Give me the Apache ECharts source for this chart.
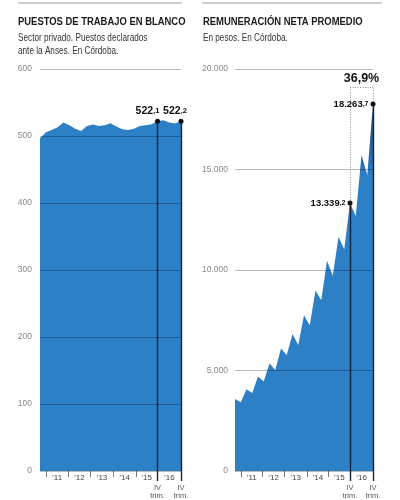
<!DOCTYPE html>
<html><head><meta charset="utf-8">
<script src="https://cdn.jsdelivr.net/npm/echarts@6/dist/echarts.min.js"></script>
<style>html,body{margin:0;padding:0;background:#fff}#c{width:400px;height:500px}</style>
</head><body><div id="c"></div>
<script>
// Quarterly series, IV 2010 .. IV 2016 (index 0..24)
const quarters = ['IV-10','I-11','II-11','III-11','IV-11','I-12','II-12','III-12','IV-12','I-13','II-13','III-13','IV-13','I-14','II-14','III-14','IV-14','I-15','II-15','III-15','IV-15','I-16','II-16','III-16','IV-16'];
// Puestos de trabajo registrados (miles)
const empleo = [496.5, 505.5, 509, 513, 520, 516, 511, 507.5, 515, 517, 515, 516, 519, 514, 510, 509, 511, 515, 516, 517.5, 522.1, 523.5, 520, 518.5, 522.2];
// Remuneración neta promedio (pesos)
const remuneracion = [3580, 3420, 4070, 3880, 4700, 4450, 5360, 5030, 6100, 5770, 6810, 6270, 7750, 7250, 8980, 8490, 10460, 9720, 11640, 11030, 13339.2, 12680, 15720, 14730, 18263.7];
// Axis ticks (year boundaries, in quarter-index units) and year labels
const yearTicks = [1, 4.8, 8.6, 12.5, 16.3, 20, 24];
const yearLabels = ['’11', '’12', '’13', '’14', '’15', '’16'];
const trimLabel = 'IV\ntrim.';
const highlightIdx = [20, 24];
const leftYTicks = {min: 0, max: 600, interval: 100};
const rightYTicks = {min: 0, max: 20000, interval: 5000};
const bracketTop = 19100;

const FW = '"Liberation Sans",Arial,sans-serif';
const BLUE = '#2d7fc6';
const NAVY = '#16263a';
const NARROW = 0.82;

const yearMids = yearLabels.map((_, i) => (yearTicks[i] + yearTicks[i + 1]) / 2);

function dots(n) { return String(n).replace(/\B(?=(\d{3})+(?!\d))/g, '.'); }
function splitNum(v) {
  const s = v.toFixed(1).split('.');
  return {int: dots(s[0]), dec: ',' + s[1]};
}

function xAxesFor(grid) {
  return [
    {
      gridIndex: grid, type: 'value', min: 0, max: quarters.length - 1, position: 'bottom',
      axisLine: {show: false}, splitLine: {show: false},
      axisTick: {show: true, customValues: yearTicks, length: 6, lineStyle: {color: '#777', width: 1}},
      axisLabel: {
        customValues: yearMids, margin: 3, fontSize: 8, color: '#444', fontFamily: FW,
        formatter: v => { const k = yearMids.findIndex(m => Math.abs(m - v) < 1e-6); return k >= 0 ? yearLabels[k] : ''; }
      }
    },
    {
      gridIndex: grid, type: 'value', min: 0, max: quarters.length - 1, position: 'bottom',
      axisLine: {show: false}, splitLine: {show: false},
      axisTick: {show: true, customValues: highlightIdx, length: 10, lineStyle: {color: NAVY, width: 1.4}},
      axisLabel: {customValues: highlightIdx, margin: 13, fontSize: 7.5, lineHeight: 8, color: '#555', fontFamily: FW, formatter: () => trimLabel}
    }
  ];
}

function yAxisFor(grid, t, fmt) {
  return {
    gridIndex: grid, type: 'value', min: t.min, max: t.max, interval: t.interval, z: 5,
    axisLine: {show: false}, axisTick: {show: false},
    axisLabel: {fontSize: 8.5, color: '#888', fontFamily: FW, margin: grid === 0 ? 8 : 7, formatter: fmt},
    splitLine: {show: true, lineStyle: {color: 'rgba(0,0,0,0.27)', width: 1}}
  };
}

const leftRich = {
  a: {fontFamily: FW, fontWeight: 'bold', fontSize: 10.5, color: '#111'},
  b: {fontFamily: FW, fontWeight: 'bold', fontSize: 7.5, color: '#111'}
};
const rightRich = {
  a: {fontFamily: FW, fontWeight: 'bold', fontSize: 9.5, color: '#111'},
  b: {fontFamily: FW, fontWeight: 'bold', fontSize: 7, color: '#111'}
};

const pct = ((remuneracion[24] / remuneracion[20] - 1) * 100).toFixed(1).replace('.', ',') + '%';

function txt(x, y, text, font, fill) {
  return {type: 'text', x: x, y: y, scaleX: NARROW, style: {text: text, font: font, fill: fill, verticalAlign: 'middle'}};
}

const chart = echarts.init(document.getElementById('c'), null, {renderer: 'canvas'});
chart.setOption({
  animation: false,
  backgroundColor: '#fff',
  graphic: [
    {type: 'line', shape: {x1: 18, y1: 3, x2: 182, y2: 3}, style: {stroke: '#999', lineWidth: 1}},
    {type: 'line', shape: {x1: 202, y1: 3, x2: 382, y2: 3}, style: {stroke: '#999', lineWidth: 1}},
    txt(18, 22, 'PUESTOS DE TRABAJO EN BLANCO', 'bold 11.5px ' + FW, '#1a1a1a'),
    txt(18, 38, 'Sector privado. Puestos declarados', '10px ' + FW, '#333'),
    txt(18, 51, 'ante la Anses. En Córdoba.', '10px ' + FW, '#333'),
    txt(203, 22, 'REMUNERACIÓN NETA PROMEDIO', 'bold 11.5px ' + FW, '#1a1a1a'),
    txt(203, 38, 'En pesos. En Córdoba.', '10px ' + FW, '#333')
  ],
  grid: [
    {left: 40, top: 69, width: 141, height: 407},
    {left: 235, top: 69, width: 138, height: 406}
  ],
  xAxis: [...xAxesFor(0), ...xAxesFor(1)],
  yAxis: [
    yAxisFor(0, leftYTicks, v => String(v)),
    yAxisFor(1, rightYTicks, v => dots(v))
  ],
  series: [
    {
      type: 'line', xAxisIndex: 0, yAxisIndex: 0, silent: true,
      data: empleo.map((v, i) => [i, v]),
      showSymbol: false, lineStyle: {width: 0}, areaStyle: {color: BLUE, opacity: 1},
      markLine: {
        silent: true, symbol: ['none', 'none'], label: {show: false},
        data: highlightIdx.map(i => [
          {coord: [i, empleo[i]], lineStyle: {color: NAVY, width: 1.4, type: 'solid'}},
          {coord: [i, 0]}
        ])
      },
      markPoint: {
        silent: true, symbol: 'circle', symbolSize: 5, itemStyle: {color: '#111'},
        data: highlightIdx.map((i, k) => {
          const s = splitNum(empleo[i]);
          return {coord: [i, empleo[i]], label: {show: true, position: 'top', distance: 2, offset: [k === 0 ? -10 : -6, 0], formatter: '{a|' + s.int + '}{b|' + s.dec + '}', rich: leftRich}};
        })
      }
    },
    {
      type: 'line', xAxisIndex: 2, yAxisIndex: 1, silent: true,
      data: remuneracion.map((v, i) => [i, v]),
      showSymbol: false, lineStyle: {width: 0},
      areaStyle: {opacity: 1, color: new echarts.graphic.LinearGradient(0, 0, 0, 1, [
        {offset: 0, color: '#183f6a'}, {offset: 0.2, color: BLUE}, {offset: 1, color: BLUE}
      ])},
      markLine: {
        silent: true, symbol: ['none', 'none'], label: {show: false},
        data: [
          ...highlightIdx.map(i => [
            {coord: [i, remuneracion[i]], lineStyle: {color: NAVY, width: 1.4, type: 'solid'}},
            {coord: [i, 0]}
          ]),
          [{coord: [20, remuneracion[20]], lineStyle: {color: '#777', width: 0.8, type: [1, 1.5]}}, {coord: [20, bracketTop]}],
          [{coord: [24, remuneracion[24]], lineStyle: {color: '#777', width: 0.8, type: [1, 1.5]}}, {coord: [24, bracketTop]}],
          [{coord: [20, bracketTop], lineStyle: {color: '#777', width: 0.8, type: [1, 1.5]},
            label: {show: true, position: 'insideMiddleTop', distance: 2, formatter: pct, fontFamily: FW, fontWeight: 'bold', fontSize: 12.5, color: '#111'}},
           {coord: [24, bracketTop]}]
        ]
      },
      markPoint: {
        silent: true, symbol: 'circle', symbolSize: 5, itemStyle: {color: '#111'},
        data: highlightIdx.map(i => {
          const s = splitNum(remuneracion[i]);
          return {coord: [i, remuneracion[i]], label: {show: true, position: 'left', distance: 2, formatter: '{a|' + s.int + '}{b|' + s.dec + '}', rich: rightRich}};
        })
      }
    }
  ]
});
</script></body></html>
